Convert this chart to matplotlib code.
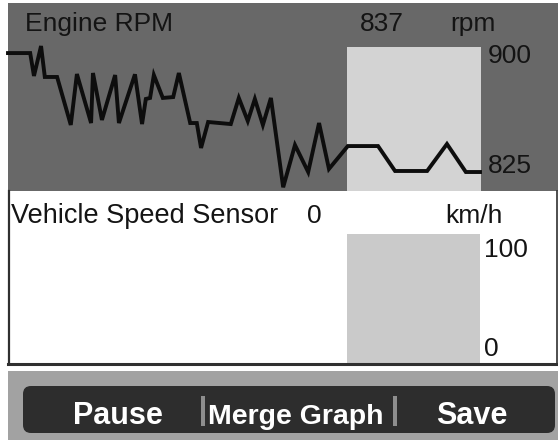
import matplotlib
matplotlib.use("Agg")
import matplotlib.pyplot as plt
from matplotlib.patches import Rectangle, FancyBboxPatch

# ---------------- data ----------------
rpm_time = [0, 4.7, 5.5, 7.0, 7.8, 10.4, 13.3, 14.6, 17.6, 18.0, 19.9, 22.7, 23.5,
            26.9, 28.4, 29.2, 30.1, 30.9, 32.8, 35.0, 36.2, 38.6, 40.0, 40.9, 42.4,
            47.2, 48.9, 50.8, 52.3, 54.0, 55.7, 58.3, 60.8, 63.6, 65.9, 68.0, 72.0,
            78.4, 82.0, 88.8, 93.0, 97.0, 100.0]
rpm_values = [902, 902, 886.4, 906.8, 885.7, 885.7, 853, 887.7, 854.3, 888.4, 856.4,
              887, 854.3, 887.5, 853.6, 870.7, 871.4, 887, 871.4, 872, 888.4, 854.3,
              854.3, 837.3, 855, 853.6, 871.4, 855.7, 870.7, 853, 871.4, 810.5, 839.3,
              820.9, 854.3, 823, 838.6, 838.6, 821.6, 821.6, 840, 820.9, 820.9]
rpm_ticks = [825, 900]
rpm_current = 837
rpm_label = "Engine RPM"
rpm_unit = "rpm"

speed_ticks = [0, 100]
speed_current = 0
speed_label = "Vehicle Speed Sensor"
speed_unit = "km/h"

buttons = ["Pause", "Merge Graph", "Save"]

# ---------------- figure ----------------
W, H = 558, 440
fig = plt.figure(figsize=(W / 100, H / 100), dpi=100)
fig.patch.set_facecolor("white")

FONT = ["Liberation Sans", "DejaVu Sans"]
FS = 19

bg = fig.add_axes([0, 0, 1, 1])
bg.set_xlim(0, W)
bg.set_ylim(H, 0)
bg.axis("off")

def px_axes(x0, y0, x1, y1):
    return [x0 / W, 1 - y1 / H, (x1 - x0) / W, (y1 - y0) / H]

# upper panel background
bg.add_patch(Rectangle((8, 3), W - 8, 188, facecolor="#686868", edgecolor="none", zorder=1))
# current window highlight
bg.add_patch(Rectangle((347, 47), 134, 144, facecolor="#d3d3d3", edgecolor="none", zorder=2))

# lower panel
bg.add_patch(Rectangle((8, 191), W - 9, 172, facecolor="white", edgecolor="none", zorder=1))
bg.add_patch(Rectangle((347, 234), 133, 129, facecolor="#cacaca", edgecolor="none", zorder=2))
bg.plot([9, 9], [191, 364], color="#303030", lw=1.6, zorder=3)
bg.plot([556.5, 556.5], [191, 364], color="#303030", lw=1.2, zorder=3)
bg.plot([8, W], [364.5, 364.5], color="#303030", lw=2.2, zorder=3)

# bottom button area
bg.add_patch(Rectangle((8, 371), W - 8, H - 371, facecolor="#a2a2a2", edgecolor="none", zorder=1))
bg.add_patch(FancyBboxPatch((23, 386), 532, 47, boxstyle="round,pad=0,rounding_size=8",
                            facecolor="#2d2d2d", edgecolor="none", zorder=2))
for sx in (201, 393):
    bg.add_patch(Rectangle((sx, 396), 4, 30, facecolor="#8e8e8e", edgecolor="none", zorder=3))

# texts upper
tc = "#141414"
bg.text(25, 31, rpm_label, fontsize=FS, family=FONT, color=tc, va="baseline", ha="left", zorder=5)
bg.text(382, 31, str(rpm_current), fontsize=FS, family=FONT, color=tc, va="baseline", ha="center", zorder=5)
bg.text(473, 31, rpm_unit, fontsize=FS, family=FONT, color=tc, va="baseline", ha="center", zorder=5)

# texts lower
bg.text(11, 223, speed_label, fontsize=19.5, family=FONT, color=tc, va="baseline", ha="left", zorder=5)
bg.text(314, 223, str(speed_current), fontsize=FS, family=FONT, color=tc, va="baseline", ha="center", zorder=5)
bg.text(474, 223, speed_unit, fontsize=FS, family=FONT, color=tc, va="baseline", ha="center", zorder=5)

# button labels
bg.text(118, 424, buttons[0], fontsize=22, family=FONT, weight="bold", color="white",
        va="baseline", ha="center", zorder=5)
bg.text(296, 424, buttons[1], fontsize=20.5, family=FONT, weight="bold", color="white",
        va="baseline", ha="center", zorder=5)
bg.text(472, 424, buttons[2], fontsize=22, family=FONT, weight="bold", color="white",
        va="baseline", ha="center", zorder=5)

# ---------------- RPM graph ----------------
ax = fig.add_axes(px_axes(8, 56, 480, 166))
ax.set_facecolor("none")
ax.plot(rpm_time, rpm_values, color="#0d0d0d", lw=2.8, solid_joinstyle="miter",
        clip_on=False, zorder=4)
ax.set_xlim(rpm_time[0], rpm_time[-1])
ax.set_ylim(rpm_ticks[0], rpm_ticks[-1])
ax.axis("off")
for v in rpm_ticks:
    ax.annotate(str(v), xy=(1, v), xycoords=("axes fraction", "data"),
                xytext=(8, 0), textcoords="offset pixels",
                fontsize=FS, family=FONT, color=tc, ha="left", va="center",
                annotation_clip=False)

# ---------------- speed graph ----------------
ax2 = fig.add_axes(px_axes(8, 250, 480, 349))
ax2.set_facecolor("none")
ax2.set_xlim(0, 100)
ax2.set_ylim(speed_ticks[0], speed_ticks[-1])
ax2.axis("off")
for v in speed_ticks:
    ax2.annotate(str(v), xy=(1, v), xycoords=("axes fraction", "data"),
                 xytext=(4, 0), textcoords="offset pixels",
                 fontsize=FS, family=FONT, color=tc, ha="left", va="center",
                 annotation_clip=False)

fig.savefig("out.png", dpi=100)
